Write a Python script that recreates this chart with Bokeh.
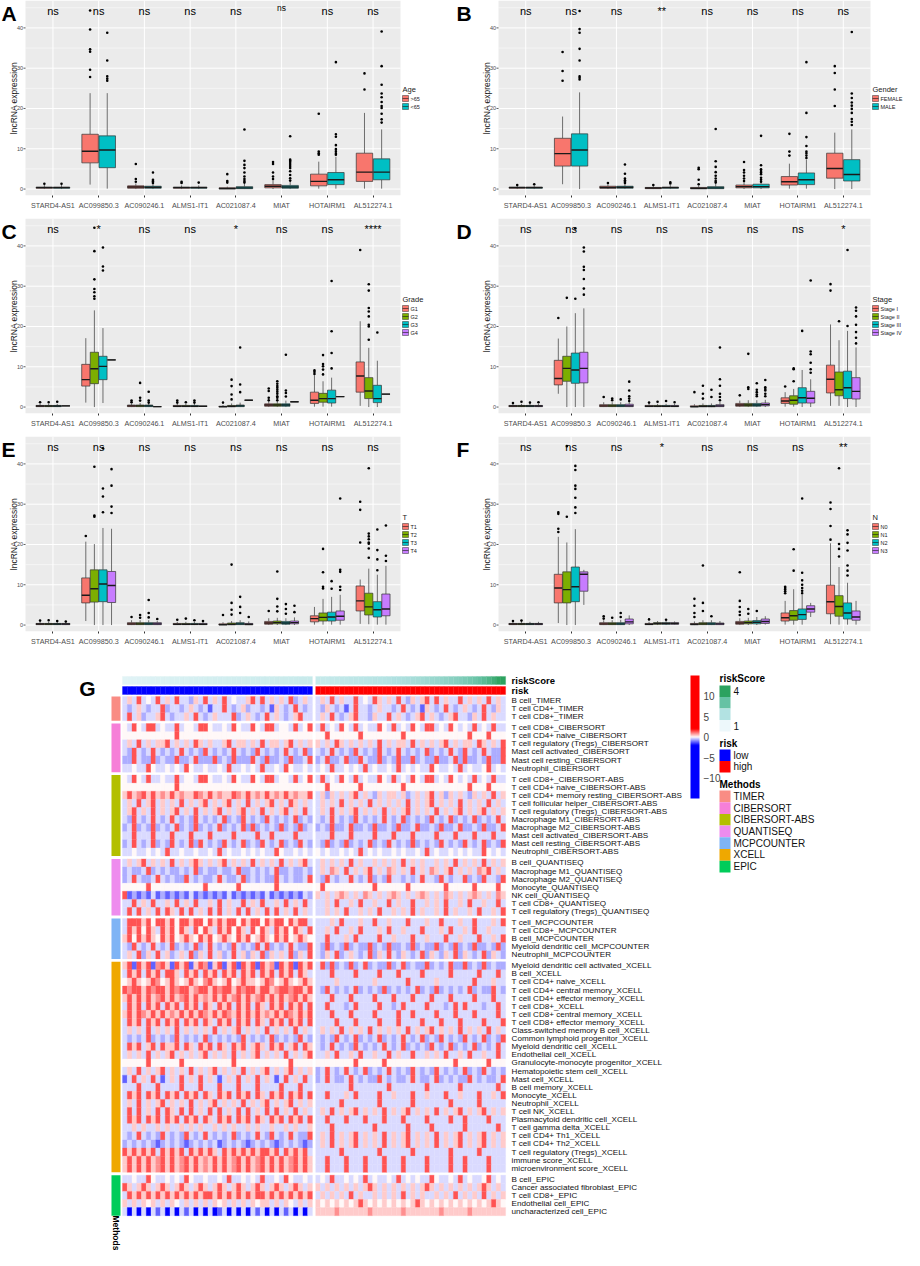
import math
from bokeh.plotting import figure
from bokeh.models import (ColumnDataSource, Range1d, FixedTicker, ColorBar, LinearColorMapper)
from bokeh.layouts import column, row
from bokeh.embed import file_html
from bokeh.resources import INLINE
from bokeh.core.properties import value

FONT = "Liberation Sans"

# ---------------------------------------------------------------- box plot data
LNC = ["STARD4-AS1", "AC099850.3", "AC090246.1", "ALMS1-IT1",
       "AC021087.4", "MIAT", "HOTAIRM1", "AL512274.1"]
COL2 = ["#F8766D", "#00BFC4"]
COL4 = ["#F8766D", "#7CAE00", "#00BFC4", "#C77CFF"]
Y_TICKS = [0, 10, 20, 30, 40]
Y_MINOR = [5, 15, 25, 35, 45]

A_groups = [">65", "<65"]
A_q1 = [0.2, 0.2, 6.5, 5.3, 0.2, 0.2, 0.2, 0.2, 0.05, 0.1, 0.3, 0.2, 0.8, 1.1, 1.9, 2.3]
A_med = [0.35, 0.35, 9.4, 9.7, 0.5, 0.45, 0.35, 0.35, 0.15, 0.3, 0.7, 0.5, 1.9, 2.3, 4.2, 4.2]
A_q3 = [0.5, 0.5, 13.6, 13.2, 0.8, 0.7, 0.5, 0.5, 0.3, 0.6, 1.1, 0.9, 3.7, 4.1, 8.9, 7.5]
A_lo = [0, 0, 1.1, 0.1, 0, 0, 0, 0, 0, 0, 0, 0, 0.1, 0.1, 0.1, 0.1]
A_hi = [1.0, 1.0, 23.8, 23.8, 1.4, 1.4, 0.9, 0.9, 0.6, 1.3, 2.2, 1.9, 6.8, 8.0, 18.9, 14.8]
A_out = [[1.3], [1.3], [44.3, 39.6, 34.7, 34.1, 29.6, 27.8], [38.8, 31.9, 28.0, 27.4, 26.9],
         [6.2, 2.5, 1.8], [4.1, 2.3, 2.0, 1.8, 1.5], [1.8, 1.5], [1.6],
         [3.7, 2.0, 1.6], [14.8, 7.0, 6.0, 5.2, 4.1, 3.1, 2.5, 2.0, 1.6],
         [6.7, 6.2, 4.1, 3.1, 2.5], [13.1, 7.3, 7.0, 6.7, 6.2, 5.7, 5.2, 4.4, 3.5, 2.7, 2.1],
         [18.7, 9.3, 8.9, 8.5], [31.5, 13.6, 13.0, 10.9, 9.9, 9.4, 8.9, 8.5],
         [28.7, 24.7], [39.1, 30.5, 25.9, 23.7, 22.8, 21.6, 20.6, 20.1, 18.7, 17.3, 16.5]]
A_sig = ["ns", "ns", "ns", "ns", "ns", "ns", "ns", "ns"]

B_groups = ["FEMALE", "MALE"]
B_q1 = [0.2, 0.2, 5.7, 5.7, 0.2, 0.2, 0.1, 0.2, 0.05, 0.1, 0.3, 0.3, 1.0, 1.1, 2.7, 2.0]
B_med = [0.35, 0.35, 8.8, 9.7, 0.4, 0.45, 0.25, 0.35, 0.2, 0.3, 0.6, 0.6, 1.8, 2.3, 5.1, 3.6]
B_q3 = [0.5, 0.5, 12.6, 13.7, 0.7, 0.7, 0.4, 0.5, 0.4, 0.6, 1.0, 1.2, 3.1, 4.0, 8.9, 7.3]
B_lo = [0, 0, 1.2, 0, 0, 0, 0, 0, 0, 0, 0, 0, 0.1, 0.1, 0, 0]
B_hi = [0.9, 0.9, 18.0, 24.0, 1.2, 1.4, 0.8, 1.0, 0.9, 1.3, 2.0, 2.5, 6.3, 7.3, 14.0, 14.8]
B_out = [[1.0], [1.2], [34.0, 29.3, 26.9], [44.2, 39.7, 38.8, 34.8, 31.9, 28.0, 27.6, 27.2],
         [1.5], [6.1, 3.8, 2.6, 2.2, 1.8, 1.5], [1.0], [1.4, 1.7],
         [5.3, 4.9, 2.3, 1.2], [14.9, 6.9, 5.5, 4.2, 3.3, 2.6, 2.0, 1.6],
         [6.7, 4.7, 4.1, 3.3, 2.6, 2.0], [13.2, 5.9, 4.9, 4.5, 4.1, 3.7, 2.8, 2.3, 1.8],
         [13.7, 9.3, 8.3], [31.5, 18.9, 12.9, 10.7, 9.3, 8.9, 8.3, 7.7],
         [30.5, 28.8, 24.7, 20.6], [39.0, 23.7, 22.6, 21.5, 20.7, 19.9, 18.9, 17.4, 16.7, 15.9]]
B_sig = ["ns", "ns", "ns", "**", "ns", "ns", "ns", "ns"]

C_groups = ["G1", "G2", "G3", "G4"]
C_q1 = [0.1, 0.1, 0.1, 0.3, 5.2, 5.8, 6.8, 11.7, 0.1, 0.1, 0.1, 0.1, 0.1, 0.1, 0.1, 0.2,
        0.0, 0.05, 0.1, 1.7, 0.2, 0.2, 0.2, 1.3, 0.9, 1.2, 1.0, 2.6, 3.7, 2.1, 1.1, 3.2]
C_med = [0.25, 0.25, 0.25, 0.3, 6.8, 9.5, 10.1, 11.7, 0.3, 0.3, 0.3, 0.1, 0.2, 0.2, 0.2, 0.2,
         0.1, 0.2, 0.3, 1.7, 0.5, 0.5, 0.5, 1.3, 1.7, 2.1, 2.1, 2.6, 7.7, 4.0, 2.1, 3.2]
C_q3 = [0.4, 0.4, 0.4, 0.3, 10.6, 13.6, 12.6, 11.7, 0.5, 0.5, 0.5, 0.1, 0.4, 0.4, 0.4, 0.2,
        0.2, 0.4, 0.5, 1.7, 0.8, 0.8, 0.8, 1.3, 3.7, 3.4, 4.2, 2.6, 11.2, 7.3, 5.4, 3.2]
C_lo = [0, 0, 0, 0.3, 1.1, 0, 1.0, 11.7, 0, 0, 0, 0.1, 0, 0, 0, 0.2,
        0, 0, 0, 1.7, 0, 0, 0, 1.3, 0.1, 0.1, 0.1, 2.6, 0.3, 0, 0, 3.2]
C_hi = [0.8, 0.8, 0.8, 0.3, 17.1, 24.0, 19.6, 11.7, 0.9, 1.0, 1.0, 0.1, 0.8, 0.8, 0.8, 0.2,
        0.5, 0.9, 1.1, 1.7, 1.6, 1.6, 1.6, 1.3, 7.9, 6.4, 7.3, 2.6, 21.3, 14.7, 11.5, 3.2]
C_out = [[1.2], [1.2], [1.3], [],
         [], [44.5, 38.7, 31.7, 29.3, 28.5, 27.5, 26.9], [39.6, 34.9, 33.9], [],
         [1.6, 1.2], [6.0, 2.3, 1.6], [3.8, 1.6, 1.1], [],
         [1.6, 1.1], [1.2], [1.6, 1.1], [],
         [1.1], [6.8, 5.2, 3.1, 1.9], [14.8, 5.6, 3.7], [],
         [4.6, 4.0, 2.3, 1.7], [6.4, 5.8, 5.2, 4.8, 4.3, 3.8, 3.3, 2.7, 2.3, 1.7], [13.0, 4.1, 3.5, 2.6], [],
         [9.1, 8.7, 8.2], [12.9, 10.7, 10.1, 9.3, 8.1], [31.3, 18.8, 13.4, 9.6], [],
         [39.0], [30.5, 28.9, 24.6, 23.7, 22.5, 20.4, 20.0, 16.7], [18.5], []]
C_sig = ["ns", "*", "ns", "ns", "*", "ns", "ns", "****"]

D_groups = ["Stage I", "Stage II", "Stage III", "Stage IV"]
D_q1 = [0.1, 0.1, 0.1, 0.1, 5.5, 6.4, 5.9, 6.0, 0.1, 0.1, 0.1, 0.1, 0.1, 0.1, 0.1, 0.1,
        0.0, 0.05, 0.05, 0.1, 0.2, 0.2, 0.2, 0.3, 0.9, 0.7, 1.0, 1.0, 3.5, 2.8, 2.1, 2.0]
D_med = [0.25, 0.25, 0.25, 0.25, 7.1, 9.6, 9.2, 9.6, 0.3, 0.3, 0.3, 0.3, 0.2, 0.2, 0.2, 0.2,
         0.1, 0.2, 0.2, 0.3, 0.5, 0.5, 0.5, 0.6, 1.5, 1.7, 2.3, 2.2, 6.9, 4.3, 4.8, 3.9]
D_q3 = [0.4, 0.4, 0.4, 0.4, 11.6, 12.6, 13.4, 13.6, 0.6, 0.6, 0.6, 0.7, 0.4, 0.4, 0.4, 0.4,
        0.3, 0.4, 0.4, 0.6, 0.9, 0.9, 0.9, 1.0, 2.3, 2.8, 4.8, 3.9, 10.4, 8.7, 8.9, 7.3]
D_lo = [0, 0, 0, 0, 3.3, 0, 0, 0, 0, 0, 0, 0, 0, 0, 0, 0,
        0, 0, 0, 0, 0, 0, 0, 0, 0.1, 0.1, 0, 0, 0.3, 0.3, 0, 0]
D_hi = [0.8, 0.8, 0.8, 0.8, 17.0, 20.0, 23.3, 24.5, 1.2, 1.2, 1.2, 1.3, 0.8, 0.8, 0.8, 0.8,
        0.7, 0.9, 0.9, 1.3, 1.6, 1.7, 1.7, 1.8, 3.7, 4.5, 9.2, 6.9, 20.5, 16.6, 18.9, 14.8]
D_out = [[1.0], [1.3], [1.1], [1.2],
         [22.1], [27.1], [44.3, 26.9], [39.6, 38.6, 34.8, 34.0, 31.8, 29.4, 27.9],
         [2.5], [2.1, 1.7], [1.9], [6.3, 4.1, 2.7, 2.1, 1.5],
         [1.1], [1.3], [1.5], [1.2],
         [3.7], [5.3, 3.3, 2.1], [4.3, 2.5], [14.8, 6.9, 5.3, 3.3, 2.5, 1.7],
         [2.9], [13.2, 4.9, 4.5], [5.9, 4.3, 3.7, 3.1, 2.7], [6.7, 4.9, 4.5, 4.1, 3.3, 2.7],
         [5.1], [9.6, 9.4, 6.4], [18.9], [31.4, 13.8, 13.1, 11.0, 9.4, 8.5],
         [30.5, 28.9], [21.3], [39.0, 20.1], [24.7, 23.9, 22.5, 20.4, 18.6, 17.2, 15.8]]
D_sig = ["ns", "ns", "ns", "ns", "ns", "ns", "ns", "*"]

E_groups = ["T1", "T2", "T3", "T4"]
E_q1 = [0.1, 0.1, 0.1, 0.1, 5.5, 5.7, 5.8, 5.6, 0.1, 0.1, 0.1, 0.1, 0.1, 0.1, 0.1, 0.1,
        0.0, 0.05, 0.1, 0.05, 0.2, 0.3, 0.2, 0.3, 0.8, 1.0, 1.0, 1.2, 3.5, 2.5, 2.0, 2.3]
E_med = [0.25, 0.25, 0.25, 0.25, 7.4, 9.0, 10.2, 9.8, 0.3, 0.3, 0.3, 0.3, 0.2, 0.2, 0.2, 0.2,
         0.1, 0.2, 0.3, 0.2, 0.5, 0.6, 0.5, 0.6, 1.6, 1.9, 2.0, 2.2, 6.0, 4.5, 3.8, 4.0]
E_q3 = [0.4, 0.4, 0.4, 0.4, 11.7, 13.7, 13.7, 13.3, 0.6, 0.6, 0.6, 0.6, 0.4, 0.4, 0.4, 0.4,
        0.3, 0.5, 0.6, 0.4, 0.9, 1.0, 0.9, 1.0, 2.3, 3.0, 3.2, 3.5, 9.7, 7.9, 5.8, 7.7]
E_lo = [0, 0, 0, 0, 1.0, 0, 0, 0, 0, 0, 0, 0, 0, 0, 0, 0,
        0, 0, 0, 0, 0, 0, 0, 0, 0.1, 0.1, 0.1, 0.1, 0.3, 0.2, 0.1, 0.1]
E_hi = [0.8, 0.8, 0.8, 0.8, 20.7, 20.1, 24.1, 23.9, 1.2, 1.2, 1.2, 1.0, 0.8, 0.8, 0.8, 0.8,
        0.7, 1.0, 1.2, 0.9, 1.7, 1.8, 1.7, 1.9, 4.5, 6.5, 7.0, 7.5, 11.3, 14.0, 12.5, 14.7]
E_out = [[1.1], [1.2], [1.0], [0.9],
         [22.1], [39.3, 27.2, 26.9], [43.9, 33.9, 31.9, 28.0], [38.7, 34.6, 29.4, 27.8],
         [2.0], [2.5, 1.8], [6.2, 3.0, 1.9], [1.5],
         [1.3], [1.6], [1.2], [1.0],
         [2.5], [15.0, 5.5, 3.8, 2.6], [7.0, 4.5, 3.0], [2.0],
         [3.5], [13.3, 6.5, 4.6, 3.4], [5.2, 4.0, 2.8], [4.8, 3.2],
         [], [18.9, 13.1, 9.5, 9.1], [10.9, 9.0], [31.4, 13.7, 13.2, 9.5, 8.7],
         [30.6, 28.6, 20.5], [38.9, 22.7, 22.0, 21.3, 20.5, 20.2, 19.0, 16.7],
         [23.7, 18.6, 16.3, 13.6], [24.7, 17.2, 15.9]]
E_sig = ["ns", "ns", "ns", "ns", "ns", "ns", "ns", "ns"]

F_groups = ["N0", "N1", "N2", "N3"]
F_q1 = [0.1, 0.1, 0.1, 0.1, 5.5, 5.5, 5.8, 8.4, 0.1, 0.1, 0.1, 0.3, 0.1, 0.2, 0.2, 0.2,
        0.05, 0.1, 0.1, 0.1, 0.2, 0.3, 0.3, 0.4, 1.0, 1.2, 1.4, 3.2, 2.8, 2.2, 1.5, 1.2]
F_med = [0.25, 0.25, 0.25, 0.25, 9.2, 8.8, 9.5, 12.6, 0.3, 0.3, 0.3, 0.8, 0.2, 0.4, 0.4, 0.4,
         0.2, 0.3, 0.3, 0.3, 0.5, 0.6, 0.7, 0.9, 1.8, 2.3, 2.6, 4.0, 5.8, 4.6, 3.0, 2.0]
F_q3 = [0.4, 0.4, 0.4, 0.4, 12.6, 13.2, 14.4, 13.2, 0.6, 0.6, 0.6, 1.5, 0.4, 0.6, 0.6, 0.6,
        0.4, 0.6, 0.6, 0.5, 0.9, 1.0, 1.1, 1.5, 3.0, 3.6, 4.0, 4.8, 9.9, 7.3, 5.5, 3.5]
F_lo = [0, 0, 0, 0, 0.5, 0, 0, 5.0, 0, 0, 0, 0, 0, 0, 0, 0.1,
        0, 0, 0, 0, 0, 0, 0, 0.1, 0.1, 0.1, 0.1, 2.0, 0.2, 0.1, 0.1, 0.1]
F_hi = [0.8, 0.8, 0.8, 0.8, 21.9, 20.5, 23.8, 13.7, 1.2, 1.2, 1.3, 2.4, 0.8, 1.0, 1.0, 0.9,
        0.9, 1.2, 1.2, 1.0, 1.7, 1.8, 2.0, 2.2, 6.0, 8.9, 7.5, 5.5, 20.3, 14.4, 10.5, 6.0]
F_out = [[1.0], [1.1], [], [],
         [28.0, 27.6, 23.9, 23.1], [44.4, 26.9], [39.5, 38.5, 34.6, 33.8, 31.6, 29.2, 27.8], [],
         [2.2, 1.6], [1.8], [3.0, 2.0], [],
         [1.4], [], [1.3], [],
         [6.5, 4.8, 3.0, 2.0], [14.8, 5.5, 3.5], [2.2], [],
         [13.1, 6.0, 4.5, 3.3, 2.5], [4.0, 2.8], [3.5], [],
         [9.5, 9.2, 8.8, 8.4, 7.9], [18.8, 13.5], [31.4, 13.0, 11.1, 10.0, 9.2, 8.5, 7.9], [],
         [30.4, 28.8, 24.6, 21.2], [38.9, 20.1, 18.9, 17.0], [23.5, 22.5, 20.4, 18.5, 14.8, 13.5, 12.3], []]
F_sig = ["ns", "ns", "ns", "*", "ns", "ns", "ns", "**"]

# ---------------------------------------------------------------- heatmap data
METHODS = ["TIMER", "CIBERSORT", "CIBERSORT-ABS", "QUANTISEQ", "MCPCOUNTER", "XCELL", "EPIC"]
METHOD_COLORS = ["#F98C84", "#F67FD8", "#B3BF00", "#EE8CEE", "#7FB4F5", "#EFA800", "#00CC5A"]

ROWS_TIMER = ["B cell_TIMER", "T cell CD4+_TIMER", "T cell CD8+_TIMER"]
ROWS_CIBERSORT = ["T cell CD8+_CIBERSORT", "T cell CD4+ naive_CIBERSORT",
                  "T cell regulatory (Tregs)_CIBERSORT", "Mast cell activated_CIBERSORT",
                  "Mast cell resting_CIBERSORT", "Neutrophil_CIBERSORT"]
ROWS_CIBERSORT_ABS = ["T cell CD8+_CIBERSORT-ABS", "T cell CD4+ naive_CIBERSORT-ABS",
                      "T cell CD4+ memory resting_CIBERSORT-ABS", "T cell follicular helper_CIBERSORT-ABS",
                      "T cell regulatory (Tregs)_CIBERSORT-ABS", "Macrophage M1_CIBERSORT-ABS",
                      "Macrophage M2_CIBERSORT-ABS", "Mast cell activated_CIBERSORT-ABS",
                      "Mast cell resting_CIBERSORT-ABS", "Neutrophil_CIBERSORT-ABS"]
ROWS_QUANTISEQ = ["B cell_QUANTISEQ", "Macrophage M1_QUANTISEQ", "Macrophage M2_QUANTISEQ",
                  "Monocyte_QUANTISEQ", "NK cell_QUANTISEQ", "T cell CD8+_QUANTISEQ",
                  "T cell regulatory (Tregs)_QUANTISEQ"]
ROWS_MCPCOUNTER = ["T cell_MCPCOUNTER", "T cell CD8+_MCPCOUNTER", "B cell_MCPCOUNTER",
                   "Myeloid dendritic cell_MCPCOUNTER", "Neutrophil_MCPCOUNTER"]
ROWS_XCELL = ["Myeloid dendritic cell activated_XCELL", "B cell_XCELL", "T cell CD4+ naive_XCELL",
              "T cell CD4+ central memory_XCELL", "T cell CD4+ effector memory_XCELL", "T cell CD8+_XCELL",
              "T cell CD8+ central memory_XCELL", "T cell CD8+ effector memory_XCELL",
              "Class-switched memory B cell_XCELL", "Common lymphoid progenitor_XCELL",
              "Myeloid dendritic cell_XCELL", "Endothelial cell_XCELL",
              "Granulocyte-monocyte progenitor_XCELL", "Hematopoietic stem cell_XCELL", "Mast cell_XCELL",
              "B cell memory_XCELL", "Monocyte_XCELL", "Neutrophil_XCELL", "T cell NK_XCELL",
              "Plasmacytoid dendritic cell_XCELL", "T cell gamma delta_XCELL", "T cell CD4+ Th1_XCELL",
              "T cell CD4+ Th2_XCELL", "T cell regulatory (Tregs)_XCELL", "immune score_XCELL",
              "microenvironment score_XCELL"]
ROWS_EPIC = ["B cell_EPIC", "Cancer associated fibroblast_EPIC", "T cell CD8+_EPIC",
             "Endothelial cell_EPIC", "uncharacterized cell_EPIC"]

# 0 = strong blue ... 3 = lavender, 4 = white, 5 = pink ... 7 = strong red
HM_TIMER = [
    "3537343735 3733253735 3734335737 3535372353 | 3537353373 4375353732 5357373533 7353537353",
    "3235323372 3323532313 3732352332 3153237323 | 3253231373 3235332373 2315323732 3532373253",
    "3735233573 2335373235 3337235323 7353235733 | 3537323573 3253373532 3573532357 3325373533",
]
HM_CIBERSORT = [
    "4374377343 3734437743 3437433743 7734437347 | 3734374373 4337437343 7437734374 3437343733",
    "4444444444 4744444444 4444444444 4444444444 | 4474444447 4444444474 4444444444 4474447444",
    "3537353557 3535375353 3573553537 3553573535 | 5353753535 3537353553 7353535735 3553753537",
    "3273237323 2373232732 3237323273 2323732372 | 3237323273 2327323732 3237232373 2732373227",
    "2273227232 2722372227 2327222732 7223272237 | 2372237227 3227232722 7232272237 2722327227",
    "3343374334 3437433433 4373343437 3343743343 | 3437334343 7343343734 3433743343 7343347343",
]
HM_CIBERSORT_ABS = [
    "4374373343 3734437743 3437433743 7734437347 | 3734374373 4337437343 7437734374 3437343733",
    "4444444444 4744444444 4444444444 4444444444 | 4474444447 4444444474 4444444444 4474447444",
    "5756757565 7565576575 6557657565 7565756557 | 3525353573 5325355352 3535735253 5325353735",
    "3537357353 5373535735 3573537353 5735375353 | 3535373535 3735353537 3535735353 7353537353",
    "3573537353 5735373535 7353573537 3535735373 | 3537353573 5353735357 3535373535 7353573535",
    "3273237323 7323273232 3723273232 7323237232 | 3237323273 2323732372 3232732372 3237232373",
    "2372327232 3723272323 7232372723 2327232723 | 2327223722 3272232722 3722327223 7223272237",
    "3373337333 7333733373 3337333373 3733337333 | 3337333733 3373337333 7333373337 3337333733",
    "2373237232 7323727323 2732372327 3237232732 | 3272327232 3723273232 7232327323 2732372327",
    "3343343437 3343343343 7343343434 3374334343 | 4343343437 3434334343 3437343343 4343374343",
]
HM_QUANTISEQ = [
    "3535735353 7353575353 5735353735 3537353573 | 3535353735 3353535373 5353353537 3535373535",
    "2322372323 2232372322 3223722323 2372232232 | 3536537353 5735365353 7353653573 5353657353",
    "2373223732 3227323223 7322372323 2273232237 | 3273233732 3723273323 2373327323 3723273327",
    "4444474444 4444444744 4444744444 4474444444 | 4744444444 4474444447 4444444744 4447444474",
    "7121213121 2121312121 2131212121 3121212132 | 5353565353 6535356535 3565353653 5356535365",
    "3373537335 3735373353 7353373537 3353735373 | 3353733537 3353373533 7335353733 5373353373",
    "3737353737 5373735373 7353737353 7373537353 | 3353537335 3537335353 7353353735 3353733537",
]
HM_MCPCOUNTER = [
    "3777574775 7477577475 7577475774 7577475773 | 3335373335 3373353337 3335337333 5337333537",
    "3757475375 7475374753 7574753747 5375747537 | 3353733537 3335373353 3373335373 3537335333",
    "5747575475 7457547574 5754757457 5475745754 | 3373335373 3337335333 7335333733 5333733537",
    "3273237323 7232372373 2327323273 7232373227 | 3272327232 2723272232 7232272327 2327223272",
    "3537253735 2353725373 5237352537 2535372537 | 3253723532 3725373253 2372532537 2532372532",
]
HM_XCELL = [
    "5717571675 1757157615 7157175717 5617571757 | 3727232723 7232272372 3227232372 2723272322",
    "3757375737 7537573757 3757375737 5737573753 | 3337333373 3337333733 3373333373 3333733373",
    "4575457645 7545754675 4574575545 7645754575 | 3333533333 3353333337 3333353333 3337333533",
    "7677576775 7677567757 6775767757 7567767757 | 3273232372 3232723232 3723272323 2372322732",
    "5757575675 7567575657 5756757567 5757567575 | 3337333733 3373337333 7333733373 3337333733",
    "3757375737 5737573753 7573757375 3757375737 | 3373332373 3337332373 3337333237 3733323373",
    "5757657575 6575757657 5765757575 6575765757 | 3337333733 3373333733 7333373337 3337333373",
    "3757375737 5737573753 7573757375 3757375737 | 3333733373 3337333733 3373337333 7333373337",
    "3535373535 3735353537 3535735353 7353537353 | 3535373535 3735353537 3535735353 7353537353",
    "3232372323 2732323723 2323273232 3723232732 | 3232732372 3237232373 2372327323 2732372327",
    "3757357375 5737537573 7537573575 3757357375 | 3237323273 2323732372 3232732372 3237232373",
    "3535373535 7353535735 3537353573 5353735357 | 3353733537 3353373533 7335353733 5373353373",
    "4444474444 4474444444 4447444444 4444474444 | 4444444474 4444744444 4444444447 4444447444",
    "3537353573 5353735357 3535373535 7353573535 | 2373237323 7232373232 7323273232 3723273232",
    "1373537313 5373537353 1353735373 5313735373 | 2373223732 3227323223 7322372323 2273232237",
    "3337333733 3373337333 7333733373 3337333733 | 3333333733 3333373333 3337333333 7333333373",
    "3757375737 5737573753 7573757375 3757375737 | 3373335373 3337335333 7335333733 5333733537",
    "3537353573 5353735357 3535373535 7353573535 | 3333373333 3337333333 7333333373 3333733333",
    "3737353737 5373735373 7353737353 7373537353 | 3537353573 5353735357 3535373535 7353573535",
    "3757375737 5737573753 7573757375 3757375737 | 3373337333 7333733373 3337333373 3733337333",
    "3353533535 3353535335 3535335353 3533535335 | 3337333333 3373333337 3333733333 3733333373",
    "3237323273 2327323732 3237232373 2732373227 | 3537353573 5353735357 3535373535 7353573535",
    "2323232123 2321232323 1232321232 3212323212 | 3537353573 5353735357 3535373535 7353573535",
    "7575757375 7573757575 3757575757 7573757573 | 3333373333 3337333333 7333333373 3333733333",
    "5757575675 7567575657 5756757567 5757567575 | 3373337333 7333733373 3337333373 3733337333",
    "5757575675 7567575657 5756757567 5757567575 | 3373337333 7333733373 3337333373 3733337333",
]
HM_EPIC = [
    "3343374334 3437433433 4373343437 3343743343 | 3437334343 7343343734 3433743343 7343347343",
    "7535753575 3575357535 7535753575 3575357535 | 5353535353 5753535353 5357535353 5353575353",
    "3757575757 5757575775 7575757577 5757575757 | 3535353735 3353535373 5353353537 3535373535",
    "5353545353 5435353535 4535353545 5353543535 | 5454545457 5454545454 5754545454 5454545754",
    "3030303130 3031303030 1303030313 0303130303 | 5555655555 5655555565 5555556555 5565555555",
]
LEVEL = {"0": -2.5, "1": -1.2, "2": -0.6, "3": -0.3, "4": 0.0, "5": 0.42, "6": 0.85, "7": 1.4}

N_LOW, N_HIGH = 40, 40
RISK_SCORE = [1.20, 1.22, 1.24, 1.25, 1.27, 1.28, 1.30, 1.31, 1.32, 1.33,
              1.35, 1.36, 1.37, 1.38, 1.39, 1.40, 1.41, 1.42, 1.43, 1.44,
              1.45, 1.46, 1.47, 1.48, 1.49, 1.50, 1.51, 1.52, 1.53, 1.54,
              1.55, 1.56, 1.57, 1.58, 1.59, 1.60, 1.61, 1.62, 1.63, 1.64,
              1.66, 1.68, 1.70, 1.72, 1.74, 1.76, 1.78, 1.80, 1.82, 1.84,
              1.86, 1.88, 1.90, 1.93, 1.96, 1.99, 2.02, 2.05, 2.08, 2.11,
              2.15, 2.19, 2.23, 2.27, 2.31, 2.36, 2.41, 2.46, 2.52, 2.58,
              2.65, 2.73, 2.82, 2.92, 3.05, 3.20, 3.40, 3.65, 3.95, 4.40]
RISK_LEVELS = ["low", "high"]
RISK_COLORS = ["#0000FF", "#FF0000"]
RS_ANCHORS = [(1.0, (0xED, 0xF8, 0xFB)), (2.0, (0xB2, 0xE2, 0xE2)),
              (3.0, (0x66, 0xC2, 0xA4)), (4.0, (0x2C, 0xA2, 0x5F))]
CB_TICKS = [-10, -5, 0, 5, 10]


# ---------------------------------------------------------------- helpers
def hexc(rgb):
    return "#%02X%02X%02X" % tuple(int(round(c)) for c in rgb)


def rs_color(v):
    if v <= RS_ANCHORS[0][0]:
        return hexc(RS_ANCHORS[0][1])
    for (a, ca), (b, cb) in zip(RS_ANCHORS[:-1], RS_ANCHORS[1:]):
        if v <= b:
            t = (v - a) / (b - a)
            return hexc([ca[i] + (cb[i] - ca[i]) * t for i in range(3)])
    return hexc(RS_ANCHORS[-1][1])


def heat_color(v):
    if v < 0:
        t = min(1.0, -v / 2.0)
        return hexc((255 * (1 - t), 255 * (1 - t), 255))
    t = min(1.0, v / 2.0)
    return hexc((255, 255 * (1 - t), 255 * (1 - t)))


PALETTE = [heat_color(-15 + 30 * (i + 0.5) / 256) for i in range(256)]
MAPPER = LinearColorMapper(palette=PALETTE, low=-15, high=15)

YMIN, YMAX = -1.6, 46.8


def box_panel(letter, title, groups, colors, q1, med, q3, lo, hi, out, sig, left, small=None):
    G = len(groups)
    W, H, FH = 452, 218, 195
    PL, PR = (25, 400) if left else (46, 418)
    sx = (PR - PL) / 8.2
    sy = FH / (YMAX - YMIN)
    xl = 0.4 - PL / sx
    xr = 8.6 + (W - PR) / sx

    def X(px):
        return xl + px / sx

    def Y(py):
        return YMAX - py / sy

    p = figure(width=W, height=H, x_range=Range1d(xl, xr), y_range=Range1d(YMIN, YMAX),
               output_backend="svg", toolbar_location=None, y_axis_location=None,
               min_border_left=0, min_border_right=0, min_border_top=0, min_border_bottom=23)
    p.outline_line_color = None
    p.background_fill_color = "white"
    p.grid.visible = False
    p.xaxis.ticker = FixedTicker(ticks=list(range(1, len(LNC) + 1)))
    p.xaxis.major_label_overrides = {i + 1: n for i, n in enumerate(LNC)}
    p.xaxis.axis_line_color = None
    p.xaxis.major_tick_line_color = "#333333"
    p.xaxis.major_tick_out = 2
    p.xaxis.major_tick_in = 0
    p.xaxis.minor_tick_out = 0
    p.xaxis.minor_tick_in = 0
    p.xaxis.major_label_text_color = "#4D4D4D"
    p.xaxis.major_label_text_font = FONT
    p.xaxis.major_label_text_font_size = "7.2px"
    p.xaxis.major_label_standoff = 3

    # ggplot panel + grid
    p.quad(left=[0.4], right=[8.6], bottom=[YMIN], top=[YMAX], fill_color="#EBEBEB", line_color=None)
    p.segment(x0=[0.4] * len(Y_MINOR), y0=Y_MINOR, x1=[8.6] * len(Y_MINOR), y1=Y_MINOR,
              line_color="white", line_width=0.5)
    p.segment(x0=[0.4] * len(Y_TICKS), y0=Y_TICKS, x1=[8.6] * len(Y_TICKS), y1=Y_TICKS,
              line_color="white", line_width=1.0)
    cx = list(range(1, len(LNC) + 1))
    p.segment(x0=cx, y0=[YMIN] * len(cx), x1=cx, y1=[YMAX] * len(cx),
              line_color="white", line_width=1.0)
    # y axis (ticks, labels, title)
    p.segment(x0=[X(PL - 2)] * len(Y_TICKS), y0=Y_TICKS, x1=[0.4] * len(Y_TICKS), y1=Y_TICKS,
              line_color="#333333", line_width=0.8)
    p.text(x=[X(PL - 2.5)] * len(Y_TICKS), y=Y_TICKS, text=[str(t) for t in Y_TICKS],
           text_font=value(FONT), text_font_size="5.5px", text_color="#4D4D4D",
           text_align="right", text_baseline="middle")
    p.text(x=[X(PL - 12)], y=[(YMIN + YMAX) / 2], text=["lncRNA expression"], angle=math.pi / 2,
           text_font=value(FONT), text_font_size="8.5px", text_color="#1A1A1A",
           text_align="center", text_baseline="middle")

    w = 0.75 / G
    bw = w * 0.96
    for g in range(G):
        ids = [c * G + g for c in range(len(LNC))]
        xs = [c + 1 + (g - (G - 1) / 2) * w for c in range(len(LNC))]
        src = ColumnDataSource(dict(
            x=xs, xl=[x - bw / 2 for x in xs], xr=[x + bw / 2 for x in xs],
            q1=[q1[i] for i in ids], med=[med[i] for i in ids], q3=[q3[i] for i in ids],
            lo=[lo[i] for i in ids], hi=[hi[i] for i in ids]))
        p.segment("x", "q3", "x", "hi", source=src, line_color="#4D4D4D", line_width=0.8)
        p.segment("x", "lo", "x", "q1", source=src, line_color="#4D4D4D", line_width=0.8)
        p.vbar(x="x", width=bw, bottom="q1", top="q3", source=src,
               fill_color=colors[g], line_color="#333333", line_width=0.7)
        p.segment("xl", "med", "xr", "med", source=src, line_color="#1A1A1A", line_width=1.4)
        ox, oy = [], []
        for c, i in enumerate(ids):
            for v in out[i]:
                ox.append(xs[c])
                oy.append(v)
        p.scatter(x=ox, y=oy, size=2.6, marker="circle", fill_color="black", line_color=None)

    sizes = ["11px"] * len(sig)
    ys = [44.2] * len(sig)
    if small is not None:
        sizes[small] = "8.5px"
        ys[small] = 45.0
    p.text(x=cx, y=ys, text=sig, text_font_size=sizes,
           text_align="center", text_baseline="middle", text_color="black",
           text_font=value(FONT))

    # legend (drawn in the right margin of the frame)
    first = FH / 2 - G * 8 / 2 + 4 + 4.5
    kcy = [first + 8 * g for g in range(G)]
    p.quad(left=[X(PR + 2)] * G, right=[X(PR + 8)] * G,
           top=[Y(c - 3) for c in kcy], bottom=[Y(c + 3) for c in kcy],
           fill_color=colors, line_color="#333333", line_width=0.5)
    p.segment(x0=[X(PR + 2)] * G, y0=[Y(c) for c in kcy], x1=[X(PR + 8)] * G, y1=[Y(c) for c in kcy],
              line_color="#1A1A1A", line_width=0.6)
    p.text(x=[X(PR + 10)] * G, y=[Y(c) for c in kcy], text=groups,
           text_font=value(FONT), text_font_size="5.5px", text_color="#1A1A1A",
           text_align="left", text_baseline="middle")
    p.text(x=[X(PR + 2)], y=[Y(first - 9.5)], text=[title],
           text_font=value(FONT), text_font_size="7.5px", text_color="#1A1A1A",
           text_align="left", text_baseline="middle")
    # panel letter
    p.text(x=[X(1 if left else 4)], y=[Y(1)], text=[letter], text_font=value(FONT),
           text_font_size="21px", text_font_style="bold", text_align="left", text_baseline="top")
    return p


pA = box_panel("A", "Age", A_groups, COL2, A_q1, A_med, A_q3, A_lo, A_hi, A_out, A_sig, True, small=5)
pB = box_panel("B", "Gender", B_groups, COL2, B_q1, B_med, B_q3, B_lo, B_hi, B_out, B_sig, False)
pC = box_panel("C", "Grade", C_groups, COL4, C_q1, C_med, C_q3, C_lo, C_hi, C_out, C_sig, True)
pD = box_panel("D", "Stage", D_groups, COL4, D_q1, D_med, D_q3, D_lo, D_hi, D_out, D_sig, False)
pE = box_panel("E", "T", E_groups, COL4, E_q1, E_med, E_q3, E_lo, E_hi, E_out, E_sig, True)
pF = box_panel("F", "N", F_groups, COL4, F_q1, F_med, F_q3, F_lo, F_hi, F_out, F_sig, False)

# ---------------------------------------------------------------- heatmap panel G
ROW_H_PX = 8.1
COL_W_PX = 4.748
GW, GH = 690, 596
X_HEAT0 = 122           # px from figure left where column 0 starts
Y_TOP0 = 15             # px from figure top where y = 0
gx0 = -X_HEAT0 / COL_W_PX
gx1 = gx0 + GW / COL_W_PX
gy0 = -Y_TOP0 / ROW_H_PX
gy1 = gy0 + GH / ROW_H_PX
pg = figure(width=GW, height=GH, x_range=Range1d(gx0, gx1), y_range=Range1d(gy1, gy0),
            output_backend="svg", toolbar_location=None,
            x_axis_location=None, y_axis_location=None, min_border=0)
pg.outline_line_color = None
pg.grid.visible = False

GAP = 0.69
ROW_GAP = 0.35
Y0 = 3.33


def col_left(j):
    return j if j < N_LOW else j + GAP


groups_all = [(ROWS_TIMER, HM_TIMER), (ROWS_CIBERSORT, HM_CIBERSORT),
              (ROWS_CIBERSORT_ABS, HM_CIBERSORT_ABS), (ROWS_QUANTISEQ, HM_QUANTISEQ),
              (ROWS_MCPCOUNTER, HM_MCPCOUNTER), (ROWS_XCELL, HM_XCELL), (ROWS_EPIC, HM_EPIC)]
cells = dict(l=[], r=[], t=[], b=[], v=[])
strip = dict(l=[], r=[], t=[], b=[], c=[])
centers, names = [], []
y = Y0
NCOL = N_LOW + N_HIGH
for m, (rnames, rstrs) in enumerate(groups_all):
    ystart = y
    for rn, s in zip(rnames, rstrs):
        s = s.replace(" ", "").replace("|", "")
        for j in range(NCOL):
            ch = s[j] if j < len(s) else "3"
            x0 = col_left(j)
            cells["l"].append(x0)
            cells["r"].append(x0 + 1)
            cells["t"].append(y)
            cells["b"].append(y + 1)
            cells["v"].append(LEVEL.get(ch, -0.3))
        centers.append(y + 0.5)
        names.append(rn)
        y += 1
    strip["l"].append(-2.32)
    strip["r"].append(-0.42)
    strip["t"].append(ystart)
    strip["b"].append(y)
    strip["c"].append(METHOD_COLORS[m])
    y += ROW_GAP

pg.quad(left="l", right="r", top="t", bottom="b", source=ColumnDataSource(cells),
        fill_color={"field": "v", "transform": MAPPER},
        line_color={"field": "v", "transform": MAPPER}, line_width=0.3)
pg.quad(left="l", right="r", top="t", bottom="b", fill_color="c", line_color=None,
        source=ColumnDataSource(strip))

ann = dict(l=[], r=[], t=[], b=[], c=[])
for j in range(NCOL):
    x0 = col_left(j)
    ann["l"] += [x0, x0]
    ann["r"] += [x0 + 1, x0 + 1]
    ann["t"] += [0.86, 2.10]
    ann["b"] += [1.85, 3.09]
    ann["c"] += [rs_color(RISK_SCORE[j]), RISK_COLORS[0] if j < N_LOW else RISK_COLORS[1]]
pg.quad(left="l", right="r", top="t", bottom="b", fill_color="c", line_color="c",
        line_width=0.3, source=ColumnDataSource(ann))

X_LAB = NCOL + GAP + 6 / COL_W_PX
pg.text(x=[X_LAB] * len(names), y=centers, text=names, text_font=value(FONT),
        text_font_size="8.1px", text_color="#111111", text_align="left", text_baseline="middle")
pg.text(x=[X_LAB, X_LAB], y=[1.355, 2.595], text=["riskScore", "risk"], text_font=value(FONT),
        text_font_size="9.5px", text_font_style="bold", text_align="left", text_baseline="middle")
pg.text(x=[-7.4], y=[2.4], text=["G"], text_font=value(FONT), text_font_size="21px",
        text_font_style="bold", text_align="center", text_baseline="middle")
pg.text(x=[-1.37], y=[(1223 - 677) / ROW_H_PX], text=["Methods"], angle=-math.pi / 2,
        text_font=value(FONT), text_font_size="8.5px", text_font_style="bold",
        text_align="left", text_baseline="middle")

# ---------------------------------------------------------------- legends of G
pl = figure(width=214, height=596, x_range=Range1d(698, 912), y_range=Range1d(1258, 662),
            output_backend="svg", toolbar_location=None, x_axis_location=None,
            y_axis_location=None, min_border=0)
pl.outline_line_color = None
pl.grid.visible = False

cb = ColorBar(color_mapper=MAPPER, location=(0, 452), width=9, height=123,
              ticker=FixedTicker(ticks=CB_TICKS),
              major_label_overrides={-10: "\u221210", -5: "\u22125"},
              major_label_text_font=FONT, major_label_text_font_size="10px",
              major_tick_line_color=None, bar_line_color=None, padding=0,
              label_standoff=4, background_fill_alpha=0, border_line_color=None)
pl.add_layout(cb, "center")

KX0, KX1, TX = 727, 738, 741
leg_q = dict(l=[], r=[], t=[], b=[], c=[])


def key(top, bottom, color):
    leg_q["l"].append(KX0)
    leg_q["r"].append(KX1)
    leg_q["t"].append(top)
    leg_q["b"].append(bottom)
    leg_q["c"].append(color)


rs_keys = [4, 3, 2, 1]
yk = 693
for k in rs_keys:
    key(yk, yk + 11.5, rs_color(k))
    yk += 11.5
titles = [("riskScore", 686), ("risk", 751), ("Methods", 792)]
lab = [("4", 698.7), ("1", 733.2)]
yk = 757
for lvl, colr in zip(RISK_LEVELS, RISK_COLORS):
    key(yk, yk + 11.5, colr)
    lab.append((lvl, yk + 5.75))
    yk += 11.5
yk = 798
for mname, colr in zip(METHODS, METHOD_COLORS):
    key(yk, yk + 11.7, colr)
    lab.append((mname, yk + 5.85))
    yk += 11.7
pl.quad(left="l", right="r", top="t", bottom="b", fill_color="c", line_color=None,
        source=ColumnDataSource(leg_q))
pl.text(x=[KX0] * len(titles), y=[t[1] for t in titles], text=[t[0] for t in titles],
        text_font=value(FONT), text_font_size="10px", text_font_style="bold",
        text_baseline="middle", text_align="left")
pl.text(x=[TX] * len(lab), y=[t[1] for t in lab], text=[t[0] for t in lab],
        text_font=value(FONT), text_font_size="10px", text_baseline="middle",
        text_align="left", text_color="#111111")

layout = column(row(pA, pB), row(pC, pD), row(pE, pF), row(pg, pl))
open("out.html", "w").write(file_html(layout, INLINE))
